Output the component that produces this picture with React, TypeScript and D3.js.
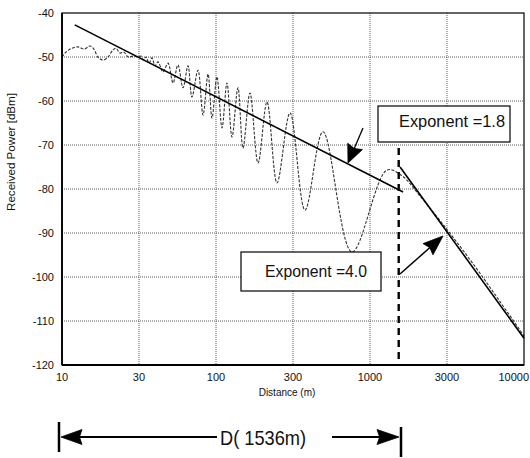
import * as d3 from "d3";

// axis ticks
const xTickValues = [10, 31.62, 100, 316.2, 1000, 3162, 10000];
const xTickLabels = ["10", "30", "100", "300", "1000", "3000", "10000"];
const yTickValues = [-40, -50, -60, -70, -80, -90, -100, -110, -120];

const rippleDistance = [
  10, 10.6, 11.6, 12.7, 13.9, 15.2, 16.1, 17.1, 18.5, 19.9, 21.4, 22.4, 23.8, 25.3, 26.9, 28.9,
  31.2, 32.6, 33.6, 35.1, 36.7, 38.4, 40.2, 42.0, 45.3, 48.8, 52.6, 56.6, 61.1, 65.8, 69.8,
  76.4, 82.4, 88.8, 94.2, 101.4, 109.4, 117.8, 127.0, 138.9, 149.7, 166.2, 187.5, 214.4,
  249.0, 302.5, 378.6, 495.3, 763.6, 1288, 1614, 2113, 3162, 4808, 6985, 10000,
];
const ripplePower = [
  -50.0, -48.9, -48.0, -47.7, -48.2, -47.5, -48.2, -50.0, -50.7, -50.0, -48.4, -48.0, -49.1,
  -48.9, -50.0, -49.8, -50.0, -49.8, -50.7, -50.0, -51.4, -50.2, -52.0, -51.1, -53.4, -51.4,
  -55.9, -51.8, -57.0, -52.0, -59.1, -53.0, -63.2, -53.9, -63.9, -54.5, -66.1, -55.9, -68.2,
  -57.0, -70.7, -58.2, -74.1, -60.2, -78.6, -62.7, -84.8, -67.0, -94.3, -75.7, -77.0, -81.6,
  -89.2, -97.6, -105.6, -113.4,
];

// fitted lines
const fit18Distance = [12.1, 1640];
const fit18Power = [-42.7, -80.7];
const fit40Distance = [1567, 10000];
const fit40Power = [-75.0, -113.9];

// break point
const breakDistance = 1536;
const breakTopPower = -70.7;

const W = 530;
const H = 458;
const margin = { left: 62, right: 6, top: 13, bottom: 93 };
const FONT = "'Liberation Sans', Arial, sans-serif";

function arrowHead(x1: number, y1: number, x2: number, y2: number, len: number, wid: number) {
  const dx = x2 - x1;
  const dy = y2 - y1;
  const L = Math.hypot(dx, dy);
  const ux = dx / L;
  const uy = dy / L;
  const bx = x2 - ux * len;
  const by = y2 - uy * len;
  const px = -uy * (wid / 2);
  const py = ux * (wid / 2);
  return {
    pts: `${x2},${y2} ${bx + px},${by + py} ${bx + ux * len * 0.12},${by + uy * len * 0.12} ${bx - px},${by - py}`,
    bx: bx + ux * len * 0.3,
    by: by + uy * len * 0.3,
  };
}

function Arrow({ x1, y1, x2, y2, len, wid, sw = 1.5 }: { x1: number; y1: number; x2: number; y2: number; len: number; wid: number; sw?: number }) {
  const h = arrowHead(x1, y1, x2, y2, len, wid);
  return (
    <g>
      <line x1={x1} y1={y1} x2={h.bx} y2={h.by} stroke="#000" strokeWidth={sw} />
      <polygon points={h.pts} fill="#000" stroke="#000" strokeWidth={0.8} strokeLinejoin="round" />
    </g>
  );
}

export default function App() {
  const x = d3.scaleLog().domain([10, 10000]).range([margin.left, W - margin.right]);
  const y = d3.scaleLinear().domain([-120, -40]).range([H - margin.bottom, margin.top]);
  const x0 = x.range()[0];
  const x1 = x.range()[1];
  const y0 = y.range()[0];
  const y1 = y.range()[1];

  const ripple = rippleDistance.map((d, i) => [d, ripplePower[i]] as [number, number]);
  const fit18 = fit18Distance.map((d, i) => [d, fit18Power[i]] as [number, number]);
  const fit40 = fit40Distance.map((d, i) => [d, fit40Power[i]] as [number, number]);

  const curve = d3
    .line<[number, number]>()
    .x((d) => x(d[0]))
    .y((d) => y(d[1]))
    .curve(d3.curveCatmullRom.alpha(0.5));
  const straight = d3
    .line<[number, number]>()
    .x((d) => x(d[0]))
    .y((d) => y(d[1]));

  const bx = x(breakDistance);

  return (
    <div style={{ position: "fixed", left: 0, top: 0 }}>
      <svg width={W} height={H} style={{ display: "block", background: "#fff" }}>
        {/* grid */}
        {xTickValues.slice(1, -1).map((v) => (
          <line key={"gx" + v} x1={x(v)} x2={x(v)} y1={y1} y2={y0} stroke="#333" strokeWidth={0.8} strokeDasharray="1,1" />
        ))}
        {yTickValues.slice(1, -1).map((v) => (
          <line key={"gy" + v} x1={x0} x2={x1} y1={y(v)} y2={y(v)} stroke="#333" strokeWidth={0.8} strokeDasharray="1,1" />
        ))}

        {/* ripple curve */}
        <path d={curve(ripple) ?? ""} fill="none" stroke="#333" strokeWidth={1.1} strokeDasharray="3,1.5" />

        {/* fitted lines */}
        <path d={straight(fit18) ?? ""} fill="none" stroke="#000" strokeWidth={1.6} />
        <path d={straight(fit40) ?? ""} fill="none" stroke="#000" strokeWidth={1.6} />

        {/* break distance */}
        <line x1={bx} x2={bx} y1={y(breakTopPower)} y2={y0} stroke="#000" strokeWidth={2.4} strokeDasharray="7,5" />

        {/* frame */}
        <rect x={x0} y={y1} width={x1 - x0} height={y0 - y1} fill="none" stroke="#000" strokeWidth={1.2} />
        <line x1={x0} x2={x0} y1={y1} y2={y0} stroke="#000" strokeWidth={1.8} />
        <line x1={x0} x2={x1} y1={y0} y2={y0} stroke="#000" strokeWidth={1.8} />

        {/* tick labels */}
        {yTickValues.map((v) => (
          <text key={"ty" + v} x={x0 - 8} y={y(v) + 4} fontSize={11} fontFamily={FONT} textAnchor="end" fill="#111">
            {v}
          </text>
        ))}
        {xTickValues.map((v, i) => (
          <text
            key={"tx" + v}
            x={i === xTickValues.length - 1 ? W - 1 : x(v)}
            y={y0 + 16}
            fontSize={11}
            fontFamily={FONT}
            textAnchor={i === xTickValues.length - 1 ? "end" : "middle"}
            fill="#111"
          >
            {xTickLabels[i]}
          </text>
        ))}

        {/* axis titles */}
        <text x={287} y={y0 + 31} fontSize={10} fontFamily={FONT} textAnchor="middle" fill="#111">
          Distance (m)
        </text>
        <text
          transform={`translate(15,152) rotate(-90)`}
          fontSize={11}
          fontFamily={FONT}
          textAnchor="middle"
          fill="#111"
          textLength={118}
          lengthAdjust="spacingAndGlyphs"
        >
          Received Power [dBm]
        </text>

        {/* annotation boxes */}
        <rect x={378} y={106} width={132} height={36} fill="#fff" stroke="#000" strokeWidth={1.2} />
        <text x={399} y={127} fontSize={16} fontFamily={FONT} fill="#111" textLength={106} lengthAdjust="spacingAndGlyphs">
          Exponent =1.8
        </text>
        <rect x={241} y={252} width={140} height={39} fill="#fff" stroke="#000" strokeWidth={1.2} />
        <text x={265} y={277} fontSize={16} fontFamily={FONT} fill="#111" textLength={102} lengthAdjust="spacingAndGlyphs">
          Exponent =4.0
        </text>

        {/* annotation arrows */}
        <Arrow x1={363} y1={128} x2={348} y2={163} len={18} wid={16} sw={1.3} />
        <Arrow x1={400} y1={274} x2={443} y2={236} len={20} wid={15} sw={1.5} />

        {/* D(1536m) dimension */}
        <line x1={59} x2={59} y1={422} y2={452} stroke="#000" strokeWidth={2.5} />
        <line x1={401} x2={401} y1={427} y2={457} stroke="#000" strokeWidth={2.5} />
        <Arrow x1={217} y1={437} x2={61} y2={437} len={21} wid={15} sw={1.8} />
        <Arrow x1={332} y1={437} x2={399} y2={437} len={22} wid={15} sw={1.8} />
        <text x={220} y={445} fontSize={21} fontFamily={FONT} fill="#111" textLength={86} lengthAdjust="spacingAndGlyphs">
          D( 1536m)
        </text>
      </svg>
    </div>
  );
}
